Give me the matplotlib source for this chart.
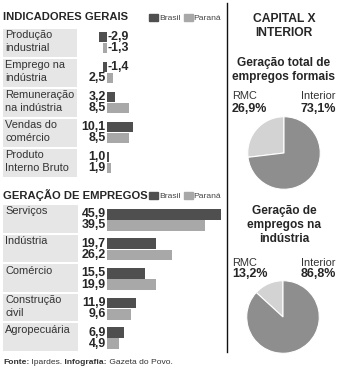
import numpy as np
import matplotlib.pyplot as plt
from matplotlib.patches import Rectangle, Patch
from matplotlib.transforms import blended_transform_factory

plt.rcParams['font.family'] = ['Liberation Sans', 'DejaVu Sans']

# data
ind_labels = ['Produção\nindustrial', 'Emprego na\nindústria', 'Remuneração\nna indústria',
              'Vendas do\ncomércio', 'Produto\nInterno Bruto']
ind_brasil = [-2.9, -1.4, 3.2, 10.1, 1.0]
ind_parana = [-1.3, 2.5, 8.5, 8.5, 1.9]

emp_labels = ['Serviços', 'Indústria', 'Comércio', 'Construção\ncivil', 'Agropecuária']
emp_brasil = [45.9, 19.7, 15.5, 11.9, 6.9]
emp_parana = [39.5, 26.2, 19.9, 9.6, 4.9]

pie_labels = ['RMC', 'Interior']
pie_total = [26.9, 73.1]
pie_industria = [13.2, 86.8]

C_BR = '#4f4f4f'
C_PR = '#a8a8a8'
C_BOX = '#e6e6e6'
C_TXT = '#262626'

W, H = 340, 370
fig = plt.figure(figsize=(W / 100, H / 100), dpi=100)


def px_axes(x0, y0, x1, y1):
    return fig.add_axes([x0 / W, 1 - y1 / H, (x1 - x0) / W, (y1 - y0) / H])


def fmt(v):
    return f'{v:.1f}'.replace('.', ',')


def bar_panel(y0, y1, zero_px, scale, labels, br, pr, box_w, b_c, p_c, bh):
    ax = px_axes(3, y0, 226, y1)
    ax.axis('off')
    ax.set_xlim(-(zero_px - 3) / scale, (226 - zero_px) / scale)
    ax.set_ylim(len(labels), 0)
    tr = blended_transform_factory(ax.transAxes, ax.transData)
    n = np.arange(len(labels))
    for i, lab in enumerate(labels):
        ax.add_patch(Rectangle((0, i), box_w, 0.935, transform=tr, color=C_BOX, lw=0))
        ax.text(0.01, i + 0.05, lab, transform=tr, ha='left', va='top',
                fontsize=7.9, color='#333333', linespacing=1.3)
    ax.barh(n + b_c, br, height=bh, color=C_BR)
    ax.barh(n + p_c, pr, height=bh, color=C_PR)
    for ys, vals in ((n + b_c, br), (n + p_c, pr)):
        for y, v in zip(ys, vals):
            if v < 0:
                ax.annotate(fmt(v), (0, y), xytext=(0.6, 0), textcoords='offset points',
                            ha='left', va='center', fontsize=8.9, fontweight='bold', color=C_TXT)
            else:
                ax.annotate(fmt(v), (0, y), xytext=(-0.6, 0), textcoords='offset points',
                            ha='right', va='center', fontsize=8.9, fontweight='bold', color=C_TXT)
    return ax


bar_panel(29, 179, 106.5, 2.6, ind_labels, ind_brasil, ind_parana, 0.332, 0.27, 0.63, 0.34)
bar_panel(205, 353, 106.5, 2.5, emp_labels, emp_brasil, emp_parana, 0.336, 0.31, 0.69, 0.36)

# titles and legends
for ty, title in ((17, 'INDICADORES GERAIS'), (195, 'GERAÇÃO DE EMPREGOS')):
    fig.text(3 / W, 1 - ty / H, title, ha='left', va='center', fontsize=8.1,
             fontweight='bold', color=C_TXT)
    handles = [Patch(color=C_BR, label='Brasil'), Patch(color=C_PR, label='Paraná')]
    fig.legend(handles=handles, loc='center right', bbox_to_anchor=(221 / W, 1 - (ty + 1) / H),
               bbox_transform=fig.transFigure, ncol=2, frameon=False, fontsize=6.1,
               handlelength=1.05, handleheight=1.05, handletextpad=0.1, columnspacing=0.35,
               borderpad=0, borderaxespad=0, labelcolor='#444444')

# divider
fig.add_artist(plt.Line2D([227 / W, 227 / W], [1 - 3 / H, 1 - 352 / H], color='#111111', lw=1))

# right side
fig.text(284 / W, 1 - 26 / H, 'CAPITAL X\nINTERIOR', ha='center', va='center', fontsize=8.7,
         fontweight='bold', color=C_TXT, linespacing=1.25)


def pie_block(title, ty, lab_y, gap, vals, cx, cy, r):
    fig.text(284 / W, 1 - ty / H, title, ha='center', va='center', fontsize=8.6,
             fontweight='bold', color=C_TXT, linespacing=1.25)
    fig.text(232 / W, 1 - lab_y / H, pie_labels[0], ha='left', va='center', fontsize=7.9, color='#333333')
    fig.text(336 / W, 1 - lab_y / H, pie_labels[1], ha='right', va='center', fontsize=7.9, color='#333333')
    fig.text(232 / W, 1 - (lab_y + gap) / H, fmt(vals[0]) + '%', ha='left', va='center',
             fontsize=9, fontweight='bold', color=C_TXT)
    fig.text(336 / W, 1 - (lab_y + gap) / H, fmt(vals[1]) + '%', ha='right', va='center',
             fontsize=9, fontweight='bold', color=C_TXT)
    ax = px_axes(cx - r, cy - r, cx + r, cy + r)
    ax.pie(vals, colors=['#d3d3d3', '#8e8e8e'], startangle=90, counterclock=True,
           wedgeprops=dict(edgecolor='white', linewidth=0.8))
    ax.set_xlim(-1.02, 1.02)
    ax.set_ylim(-1.02, 1.02)
    ax.set_aspect('equal')


pie_block('Geração total de\nempregos formais', 70, 96, 13, pie_total, 284, 153, 37)
pie_block('Geração de\nempregos na\nindústria', 225, 263, 11, pie_industria, 283, 317, 37)

# footer
parts = [('Fonte:', 'bold'), (' Ipardes.', 'normal'), (' Infografia:', 'bold'), (' Gazeta do Povo.', 'normal')]
fig.canvas.draw()
r = fig.canvas.get_renderer()
x = 3 / W
for s, w in parts:
    t = fig.text(x, 1 - 363 / H, s, ha='left', va='center', fontsize=6.1, fontweight=w, color='#333333')
    bb = t.get_window_extent(renderer=r)
    x = bb.x1 / (W * fig.dpi / 100)

fig.savefig('out.png', dpi=100, facecolor='white')
